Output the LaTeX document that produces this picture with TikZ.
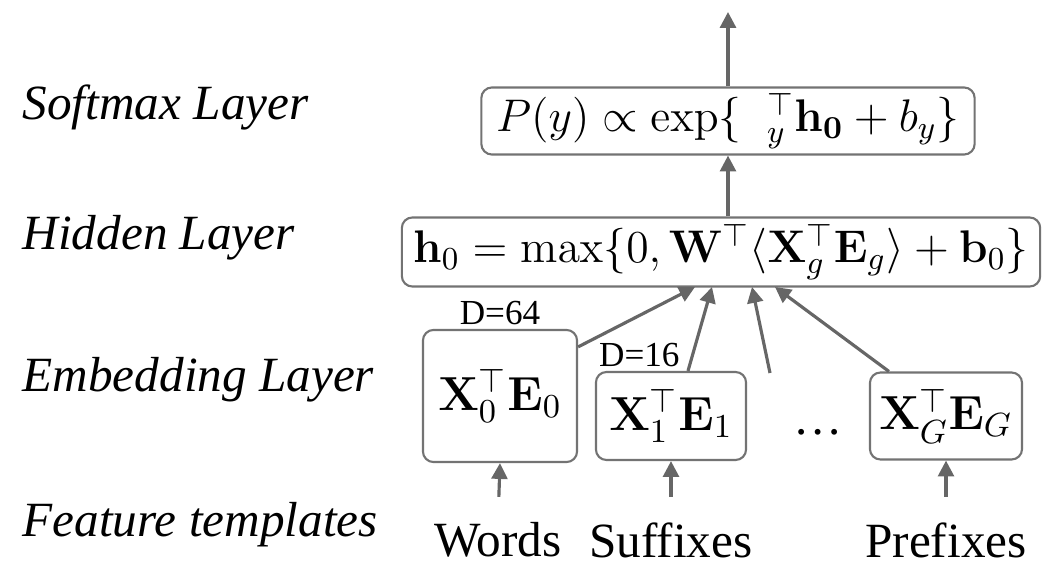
\RequirePackage{fix-cm}
\documentclass[tikz,border=0pt]{standalone}
\usepackage[no-math]{fontspec}
\setmainfont{Liberation Serif}
\usepackage{amsmath}
\usetikzlibrary{arrows.meta,calc}

\begin{document}
\begin{tikzpicture}[x=0.01cm, y=-0.01cm, >={Triangle[length=4.5pt,width=4.5pt]},
  font=\rmfamily\fontsize{14}{16}\selectfont,
  lyr/.style={anchor=west, inner sep=0pt, font=\rmfamily\itshape\fontsize{14}{16}\selectfont},
  cell/.style={draw=black!55, rounded corners=3pt, line width=0.6pt, inner sep=0pt, font=\fontsize{13}{15}\selectfont},
  emb/.style={cell, font=\fontsize{13.6}{16}\selectfont},
  dim/.style={inner sep=1pt, font=\rmfamily\fontsize{10}{12}\selectfont},
  arr/.style={->, draw=black!60, line width=0.9pt}]
  \useasboundingbox (0,0) rectangle (1045,564);
  % layer names
  \node[lyr] (lsoft) at (22,107) {Softmax Layer};
  \node[lyr] (lhid)  at (22,238) {Hidden Layer};
  \node[lyr] (lemb)  at (22,380) {Embedding Layer};
  \node[lyr] (lfeat) at (22,525) {Feature templates};
  % boxes
  \node[cell, minimum width=4.93cm, minimum height=0.67cm] (soft) at (728,121)
    {$P(y)\propto\exp\{\;\;{}^{\top}_{y}\mathbf{h_0}+b_y\}$};
  \node[cell, minimum width=6.38cm, minimum height=0.69cm] (hid) at (721,252)
    {$\mathbf{h}_0=\max\{0,\mathbf{W}^{\top}\langle\mathbf{X}_g^{\top}\mathbf{E}_g\rangle+\mathbf{b}_0\}$};
  \node[emb, minimum width=1.54cm, minimum height=1.32cm] (e0) at (500,396) {$\mathbf{X}_0^{\top}\mathbf{E}_0$};
  \node[emb, minimum width=1.50cm, minimum height=0.88cm] (e1) at (671,416) {$\mathbf{X}_1^{\top}\mathbf{E}_1$};
  \node[emb, minimum width=1.52cm, minimum height=0.87cm] (eG) at (946,416) {$\mathbf{X}_G^{\top}\mathbf{E}_G$};
  \node (dots) at (818,432) {\ldots};
  \node[dim, anchor=south] (d0) at (e0.north) {D=64};
  \node[dim, anchor=south west] (d1) at (e1.north west) {D=16};
  % feature templates
  \node[inner sep=0pt] (f0) at (498,540) {Words};
  \node[inner sep=0pt] (f1) at (671,540) {Suffixes};
  \node[inner sep=0pt] (fG) at (946,540) {Prefixes};
  \foreach \n in {0,1,G} \draw[arr, shorten <=0.25cm] (f\n.north) -- (e\n.south);
  % into the hidden layer
  \coordinate (h0) at (695,287); \coordinate (h1) at (712,287);
  \coordinate (h2) at (752,287); \coordinate (h3) at (775,287);
  \coordinate (dd) at (770,373);
  \draw[arr] (e0.north east) ++(0,18) -- (h0);
  \draw[arr] ($(e1.north)+(17,0)$) -- (h1);
  \draw[arr] (dd) -- (h2);
  \draw[arr] ($(eG.north west)+(20,0)$) -- (h3);
  \draw[arr] (soft.south |- hid.north) -- (soft.south);
  \coordinate (out) at (728,12);
  \draw[arr] (soft.north) -- (out);
\end{tikzpicture}
\end{document}
